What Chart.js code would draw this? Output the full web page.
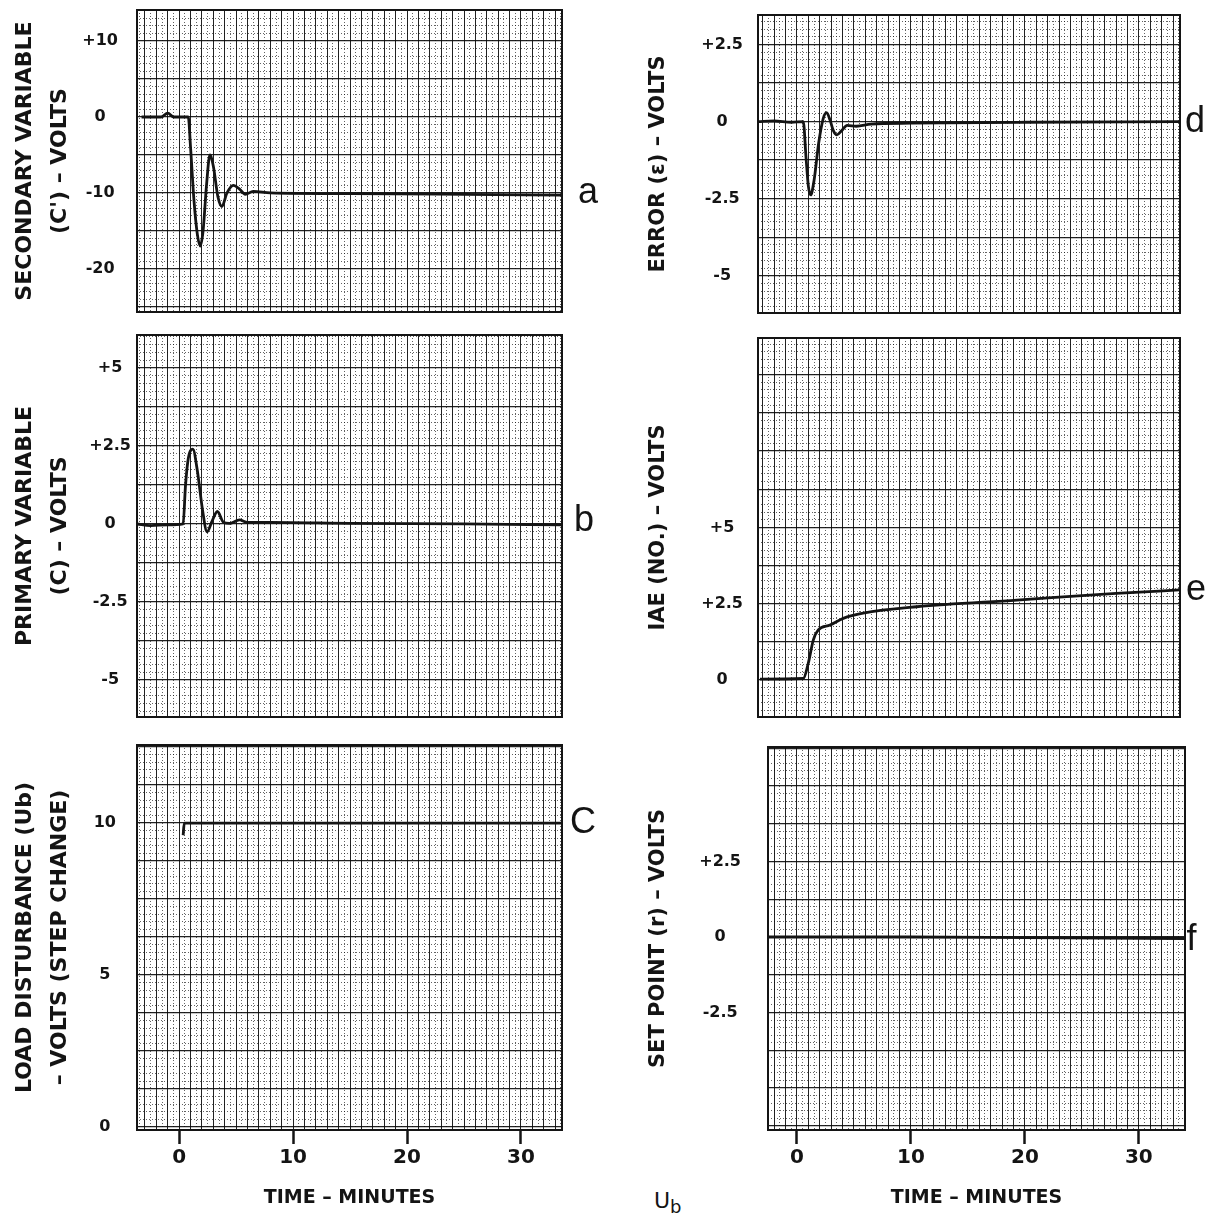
<!DOCTYPE html>
<html>
<head>
<meta charset="utf-8">
<title>Cascade control - load disturbance response</title>
<script src="https://cdn.jsdelivr.net/npm/chart.js@4.4.0/dist/chart.umd.min.js"></script>
<style>
  html, body { margin: 0; padding: 0; background: #fff; }
  #sheet { position: relative; width: 1207px; height: 1220px; overflow: hidden; background: #fff; }
  #sheet canvas { position: absolute; }
  .note { position: absolute; font: 22px 'DejaVu Sans', sans-serif; color: #141414; }
</style>
</head>
<body>
<div id="sheet">
  <div class="note" style="left:654px;top:1188px">U<sub style="font-size:18px">b</sub></div>
</div>
<script>
/* ---- recorder traces (time in minutes, volts) ---- */

const timeTicks = [0, 10, 20, 30];

// (a) secondary variable c'
const aTime  = [-3.3, -1.6, -1.0, -0.5, 0.8, 1.0, 1.3, 1.6, 1.85, 2.1, 2.4, 2.7, 3.0, 3.4, 3.75, 4.2, 4.75, 5.3, 5.8, 6.5, 8, 15, 25, 33.6];
const aVolts = [0, 0, 0.5, 0, 0, -4, -11, -15.5, -17, -15, -9, -5, -6.5, -10.5, -11.8, -10, -9, -9.5, -10.2, -9.8, -10, -10.1, -10.2, -10.3];
const aTickValues = [10, 0, -10, -20];
const aTickLabels = ['+10', '0', '-10', '-20'];

// (b) primary variable c
const bTime  = [-3.7, -2.5, -1.0, 0.35, 0.55, 0.8, 1.2, 1.6, 2.05, 2.45, 2.9, 3.35, 3.9, 4.4, 5.3, 6.0, 8, 15, 25, 33.6];
const bVolts = [0, -0.05, -0.03, 0, 1.2, 2.1, 2.4, 1.7, 0.45, -0.25, 0.1, 0.4, 0.05, 0.02, 0.13, 0.05, 0.05, 0.02, 0, -0.03];
const bTickValues = [5, 2.5, 0, -2.5, -5];
const bTickLabels = ['+5', '+2.5', '0', '-2.5', '-5'];

// (c) load disturbance Ub (step change)
const cTime  = [0.35, 0.45, 10, 20, 33.6];
const cVolts = [9.6, 10, 10, 10, 10];
const cTickValues = [10, 5, 0];
const cTickLabels = ['10', '5', '0'];

// (d) error
const dTime  = [-3.4, -2, -0.5, 0.55, 0.8, 1.0, 1.2, 1.5, 1.9, 2.3, 2.6, 2.9, 3.2, 3.5, 3.9, 4.4, 5.2, 6.5, 10, 20, 33.6];
const dVolts = [0, 0.02, -0.02, 0, -1.2, -2.1, -2.38, -1.9, -0.7, 0.1, 0.29, 0.05, -0.3, -0.43, -0.3, -0.12, -0.15, -0.08, -0.05, -0.02, 0];
const dTickValues = [2.5, 0, -2.5, -5];
const dTickLabels = ['+2.5', '0', '-2.5', '-5'];

// (e) IAE
const eTime  = [-3.25, 0.55, 0.99, 1.43, 1.87, 2.9, 4.06, 5.8, 10.5, 19.3, 28, 33.6];
const eVolts = [0.03, 0.05, 0.55, 1.31, 1.64, 1.8, 2.02, 2.19, 2.4, 2.62, 2.84, 2.95];
const eTickValues = [5, 2.5, 0];
const eTickLabels = ['+5', '+2.5', '0'];

// (f) set point
const fTime  = [-2.5, 10, 20, 34];
const fVolts = [0, 0, -0.02, -0.05];
const fTickValues = [2.5, 0, -2.5];
const fTickLabels = ['+2.5', '0', '-2.5'];

/* ---- look ---- */
const INK = '#141414';
const MAJOR = 'rgba(10,10,10,0.9)';
const MINOR = 'rgba(10,10,10,0.8)';
const FONT = "'DejaVu Sans', sans-serif";

const sheet = document.getElementById('sheet');

function steps(min, max, step) {
  const out = [];
  for (let k = Math.ceil(min / step - 1e-9); k * step <= max + 1e-9; k++) out.push(+(k * step).toFixed(4));
  return out;
}
const isOn = (v, step) => Math.abs(v / step - Math.round(v / step)) < 1e-6;

// chart frame
const frame = {
  id: 'frame',
  beforeDatasetsDraw(chart) {
    const { ctx, chartArea: a } = chart;
    ctx.save();
    ctx.strokeStyle = INK;
    ctx.lineWidth = 2;
    ctx.strokeRect(a.left, a.top, a.width, a.height);
    ctx.restore();
  }
};

// curve letter at the end of the trace
const endLabel = {
  id: 'endLabel',
  afterDatasetsDraw(chart, args, opts) {
    const pts = chart.getDatasetMeta(0).data;
    const last = pts[pts.length - 1];
    const ctx = chart.ctx;
    ctx.save();
    ctx.font = "36px 'Liberation Sans', sans-serif";
    ctx.fillStyle = INK;
    ctx.textBaseline = 'middle';
    ctx.fillText(opts.text, last.x + opts.dx, last.y + (opts.dy || 0));
    ctx.restore();
  }
};

function makePanel(p) {
  const canvas = document.createElement('canvas');
  canvas.width = p.box[2];
  canvas.height = p.box[3];
  canvas.style.left = p.box[0] + 'px';
  canvas.style.top = p.box[1] + 'px';
  sheet.appendChild(canvas);

  const xTicks = steps(p.x[0], p.x[1], 0.5);
  const yTicks = steps(p.y[0], p.y[1], p.minor);

  return new Chart(canvas, {
    type: 'line',
    data: {
      datasets: [{
        data: p.time.map((t, i) => ({ x: t, y: p.volts[i] })),
        borderColor: INK,
        borderWidth: 2.8,
        pointRadius: 0,
        cubicInterpolationMode: 'monotone',
        fill: false,
      }],
    },
    options: {
      responsive: false,
      animation: false,
      devicePixelRatio: 1,
      layout: { autoPadding: false, padding: { top: p.pad[0], right: p.pad[1], bottom: p.pad[2], left: 0 } },
      plugins: {
        legend: { display: false },
        tooltip: { enabled: false },
        endLabel: { text: p.letter, dx: p.letterDx, dy: p.letterDy },
      },
      scales: {
        x: {
          type: 'linear',
          min: p.x[0], max: p.x[1],
          afterBuildTicks: s => { s.ticks = xTicks.map(v => ({ value: v })); },
          afterFit: s => { s.height = p.axisH; s.paddingLeft = 0; s.paddingRight = 0; },
          grid: {
            color: c => (c.tick && isOn(c.tick.value, 1)) ? MAJOR : MINOR,
            lineWidth: c => (c.tick && isOn(c.tick.value, 1)) ? 1 : 0.8,
            drawTicks: p.bottom,
            tickLength: 14,
            tickWidth: 2.5,
            tickBorderDash: [],
            tickColor: c => (c.tick && timeTicks.includes(c.tick.value)) ? INK : 'rgba(0,0,0,0)',
          },
          border: { display: false, dash: c => (c.tick && !isOn(c.tick.value, 1)) ? [1, 2] : [] },
          ticks: {
            display: p.bottom,
            autoSkip: false,
            maxRotation: 0,
            padding: 2,
            color: INK,
            font: { family: FONT, size: 20, weight: 'bold' },
            callback: v => timeTicks.includes(v) ? String(v) : '',
          },
          title: {
            display: p.bottom,
            text: 'TIME – MINUTES',
            color: INK,
            font: { family: FONT, size: 19, weight: 'bold' },
            padding: { top: 0, bottom: 11 },
          },
        },
        y: {
          type: 'linear',
          min: p.y[0], max: p.y[1],
          afterBuildTicks: s => { s.ticks = yTicks.map(v => ({ value: v })); },
          afterFit: s => { s.width = p.axisW; s.paddingTop = 0; s.paddingBottom = 0; },
          grid: {
            color: c => (c.tick && isOn(c.tick.value, p.major)) ? MAJOR : MINOR,
            lineWidth: c => (c.tick && isOn(c.tick.value, p.major)) ? 1.3 : 0.8,
            drawTicks: false,
          },
          border: { display: false, dash: c => (c.tick && !isOn(c.tick.value, p.major)) ? [1, 2] : [] },
          ticks: {
            autoSkip: false,
            crossAlign: 'center',
            padding: p.tickPad,
            color: INK,
            font: { family: FONT, size: 16, weight: 'bold' },
            callback: v => {
              const i = p.ticks.findIndex(t => Math.abs(t - v) < 1e-6);
              return i < 0 ? '' : p.labels[i];
            },
          },
          title: {
            display: true,
            text: p.title,
            color: INK,
            font: { family: FONT, size: p.titleSize, weight: 'bold', lineHeight: 1.6 },
            padding: { top: p.titlePad, bottom: 0 },
          },
        },
      },
    },
    plugins: [frame, endLabel],
  });
}

const panels = [
  { time: aTime, volts: aVolts, ticks: aTickValues, labels: aTickLabels, letter: 'a',
    box: [0, 6, 620, 310], pad: [4, 58, 4], axisW: 137, axisH: 0, bottom: false,
    x: [-3.7, 33.6], y: [-25.7, 14.1], major: 5, minor: 1, tickPad: 19,
    title: ['SECONDARY VARIABLE', "(C') – VOLTS"], titleSize: 22, titlePad: 7.5, letterDx: 16, letterDy: -2 },
  { time: bTime, volts: bVolts, ticks: bTickValues, labels: bTickLabels, letter: 'b',
    box: [0, 331, 620, 390], pad: [4, 58, 4], axisW: 137, axisH: 0, bottom: false,
    x: [-3.7, 33.6], y: [-6.19, 6.06], major: 1.25, minor: 0.25, tickPad: 6,
    title: ['PRIMARY VARIABLE', '(C) – VOLTS'], titleSize: 22, titlePad: 7.5, letterDx: 12, letterDy: -4 },
  { time: cTime, volts: cVolts, ticks: cTickValues, labels: cTickLabels, letter: 'C',
    box: [0, 741, 620, 479], pad: [4, 58, 0], axisW: 137, axisH: 90, bottom: true,
    x: [-3.7, 33.6], y: [-0.1, 12.57], major: 1.25, minor: 0.25, tickPad: 21,
    title: ['LOAD DISTURBANCE (Ub)', '– VOLTS (STEP CHANGE)'], titleSize: 22, titlePad: 7.5, letterDx: 8, letterDy: 0 },
  { time: dTime, volts: dVolts, ticks: dTickValues, labels: dTickLabels, letter: 'd',
    box: [600, 11, 607, 306], pad: [4, 27, 4], axisW: 158, axisH: 0, bottom: false,
    x: [-3.42, 33.6], y: [-6.21, 3.46], major: 1.25, minor: 0.25, tickPad: 15,
    title: ['ERROR (ε) – VOLTS'], titleSize: 21, titlePad: 42, letterDx: 5, letterDy: 0 },
  { time: eTime, volts: eVolts, ticks: eTickValues, labels: eTickLabels, letter: 'e',
    box: [600, 334, 607, 387], pad: [4, 27, 4], axisW: 158, axisH: 0, bottom: false,
    x: [-3.42, 33.6], y: [-1.21, 11.2], major: 1.25, minor: 0.25, tickPad: 15,
    title: ['IAE (NO.) – VOLTS'], titleSize: 21, titlePad: 42, letterDx: 6, letterDy: 0 },
  { time: fTime, volts: fVolts, ticks: fTickValues, labels: fTickLabels, letter: 'f',
    box: [600, 743, 607, 477], pad: [4, 22, 0], axisW: 168, axisH: 90, bottom: true,
    x: [-2.54, 34.05], y: [-6.39, 6.29], major: 1.25, minor: 0.25, tickPad: 27,
    title: ['SET POINT (r) – VOLTS'], titleSize: 21, titlePad: 42, letterDx: 2, letterDy: 2 },
];

panels.forEach(makePanel);
</script>
</body>
</html>
